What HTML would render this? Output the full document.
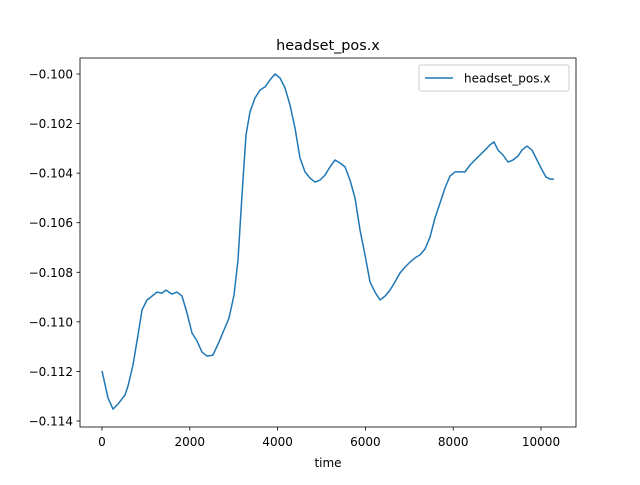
<!DOCTYPE html>
<html><head><meta charset="utf-8"><style>
body{margin:0;background:#fff;}
svg{font-family:"DejaVu Sans","Liberation Sans",sans-serif;}
</style></head><body>
<svg id="chart" width="640" height="480" viewBox="0 0 640 480" xmlns="http://www.w3.org/2000/svg">
<rect width="640" height="480" fill="#fff"/>
<text x="328" y="50" text-anchor="middle" font-size="14.4">headset_pos.x</text>
<text x="328" y="467" text-anchor="middle" font-size="12">time</text>
<g id="ticks"></g>
<path id="line" fill="none" stroke="#1f77b4" stroke-width="1.5" stroke-linejoin="round"/>
<rect x="80" y="58" width="496" height="369" fill="none" stroke="#000" stroke-width="0.8"/>
<g>
<rect x="419" y="65" width="150" height="26" rx="2" fill="#fff" fill-opacity="0.8" stroke="#ccc" stroke-width="1"/>
<line x1="425" y1="78" x2="453" y2="78" stroke="#1f77b4" stroke-width="1.5"/>
<text x="464" y="82.5" font-size="12">headset_pos.x</text>
</g>
</svg>
<script>
const times=[0,137,251,364,524,592,706,820,911,1025,1139,1253,1367,1458,1595,1709,1822,1936,2050,2164,2278,2392,2529,2665,2779,2893,3007,3098,3189,3280,3371,3485,3599,3713,3827,3941,4055,4169,4283,4397,4510,4624,4738,4852,4966,5080,5194,5308,5422,5536,5649,5763,5877,5991,6105,6219,6333,6447,6561,6675,6788,6902,7016,7130,7244,7358,7472,7586,7700,7814,7927,8041,8155,8269,8383,8497,8611,8725,8839,8930,9021,9135,9249,9363,9476,9568,9681,9795,9909,10023,10114,10205,10296];
const values=[-0.11198,-0.11307,-0.11352,-0.11332,-0.11295,-0.11259,-0.11174,-0.11053,-0.10952,-0.10912,-0.10896,-0.10880,-0.10884,-0.10872,-0.10888,-0.10880,-0.10896,-0.10964,-0.11045,-0.11077,-0.11122,-0.11138,-0.11134,-0.11081,-0.11033,-0.10985,-0.10892,-0.10751,-0.10488,-0.10246,-0.10153,-0.10097,-0.10065,-0.10052,-0.10024,-0.10000,-0.10016,-0.10056,-0.10125,-0.10218,-0.10339,-0.10395,-0.10420,-0.10436,-0.10428,-0.10408,-0.10375,-0.10347,-0.10359,-0.10375,-0.10428,-0.10500,-0.10629,-0.10730,-0.10839,-0.10880,-0.10912,-0.10896,-0.10872,-0.10839,-0.10803,-0.10779,-0.10759,-0.10742,-0.10730,-0.10706,-0.10658,-0.10581,-0.10521,-0.10460,-0.10412,-0.10395,-0.10395,-0.10395,-0.10367,-0.10347,-0.10327,-0.10307,-0.10286,-0.10274,-0.10307,-0.10327,-0.10355,-0.10347,-0.10331,-0.10307,-0.10291,-0.10307,-0.10347,-0.10387,-0.10416,-0.10424,-0.10424];
const xTicks=[0,2000,4000,6000,8000,10000];
const yTicks=[-0.114,-0.112,-0.110,-0.108,-0.106,-0.104,-0.102,-0.100];
const yTickLabels=["\u22120.114","\u22120.112","\u22120.110","\u22120.108","\u22120.106","\u22120.104","\u22120.102","\u22120.100"];
function sx(t){return 102+(t/10000)*439;}
function sy(v){return 74+(-0.100-v)/0.002*49.57;}
const NS="http://www.w3.org/2000/svg";
const g=document.getElementById('ticks');
xTicks.forEach(t=>{
  const l=document.createElementNS(NS,'line');
  l.setAttribute('x1',sx(t));l.setAttribute('x2',sx(t));l.setAttribute('y1',427);l.setAttribute('y2',430.5);
  l.setAttribute('stroke','#000');l.setAttribute('stroke-width','0.8');
  
  
  g.appendChild(l);
  const tx=document.createElementNS(NS,'text');
  tx.setAttribute('x',sx(t));tx.setAttribute('y',446);tx.setAttribute('text-anchor','middle');tx.setAttribute('font-size','12');
  tx.textContent=String(t);
  
  
  g.appendChild(tx);
});
yTicks.forEach((v,i)=>{
  const l=document.createElementNS(NS,'line');
  l.setAttribute('x1',76.5);l.setAttribute('x2',80);l.setAttribute('y1',sy(v));l.setAttribute('y2',sy(v));
  l.setAttribute('stroke','#000');l.setAttribute('stroke-width','0.8');
  
  
  g.appendChild(l);
  const tx=document.createElementNS(NS,'text');
  tx.setAttribute('x',73);tx.setAttribute('y',sy(v)+4.5);tx.setAttribute('text-anchor','end');tx.setAttribute('font-size','12');
  tx.textContent=yTickLabels[i];
  
  
  g.appendChild(tx);
});
document.getElementById('line').setAttribute('d',times.map((t,i)=>(i?'L':'M')+sx(t).toFixed(1)+','+sy(values[i]).toFixed(1)).join(''));
</script>
</body></html>
